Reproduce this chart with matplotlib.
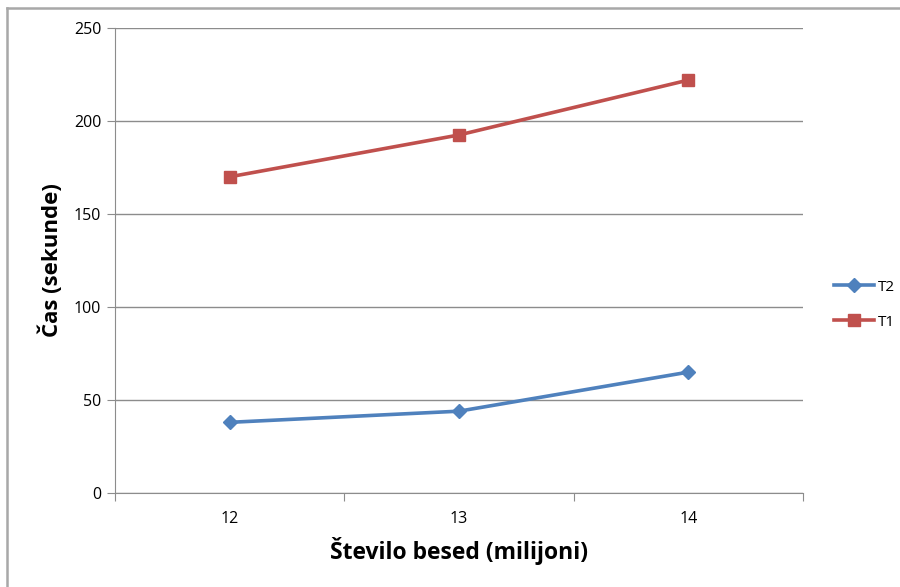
import matplotlib
matplotlib.use("Agg")
import matplotlib.pyplot as plt
from matplotlib.lines import Line2D

# word counts (millions) and run times (seconds)
categories = ["12", "13", "14"]
t2_times = [38, 44, 65]
t1_times = [170, 192.5, 222]

plt.rcParams["font.family"] = ["Open Sans", "DejaVu Sans"]

fig = plt.figure(figsize=(9, 5.87), dpi=100)
ax = fig.add_axes([0.1278, 0.1601, 0.7644, 0.7922])

# chart frame (only top and left edges fall inside the image)
frame_kw = dict(transform=fig.transFigure, color="#a8a8a8", linewidth=1.8)
fig.lines.append(Line2D([0.008, 1.0], [0.986, 0.986], **frame_kw))
fig.lines.append(Line2D([0.008, 0.008], [0.0, 0.986], **frame_kw))

xs = list(range(1, len(categories) + 1))
ax.plot(xs, t2_times, color="#4F81BD", linewidth=2.6, marker="D",
        markersize=7, label="T2")
ax.plot(xs, t1_times, color="#C0504D", linewidth=2.6, marker="s",
        markersize=8.5, label="T1")

ax.set_xlim(0.5, len(categories) + 0.5)
ax.set_ylim(0, 250)
ax.set_yticks(range(0, 251, 50))
ax.yaxis.grid(True, color="#8c8c8c", linewidth=1)
ax.set_axisbelow(True)

# tick marks between categories, labels at category centres
ax.set_xticks([x + 0.5 for x in range(0, len(categories) + 1)])
ax.set_xticklabels([])
ax.set_xticks(xs, minor=True)
ax.set_xticklabels(categories, minor=True)
ax.tick_params(axis="x", which="major", length=6, color="#8c8c8c", direction="out")
ax.tick_params(axis="x", which="minor", length=0, pad=13, labelsize=11.5)
ax.tick_params(axis="y", length=6, color="#8c8c8c", labelsize=11.5, pad=4)

for side in ("top", "right"):
    ax.spines[side].set_visible(False)
for side in ("left", "bottom"):
    ax.spines[side].set_color("#8c8c8c")

ax.set_xlabel("Število besed (milijoni)", fontsize=16.5, fontweight="bold", labelpad=7)
ax.set_ylabel("Čas (sekunde)", fontsize=16, fontweight="bold", labelpad=8)

ax.legend(loc="center left", bbox_to_anchor=(1.025, 0.405), frameon=False,
          fontsize=11, handlelength=2.6, handletextpad=0.3, labelspacing=1.3)

fig.savefig("out.png", dpi=100)
